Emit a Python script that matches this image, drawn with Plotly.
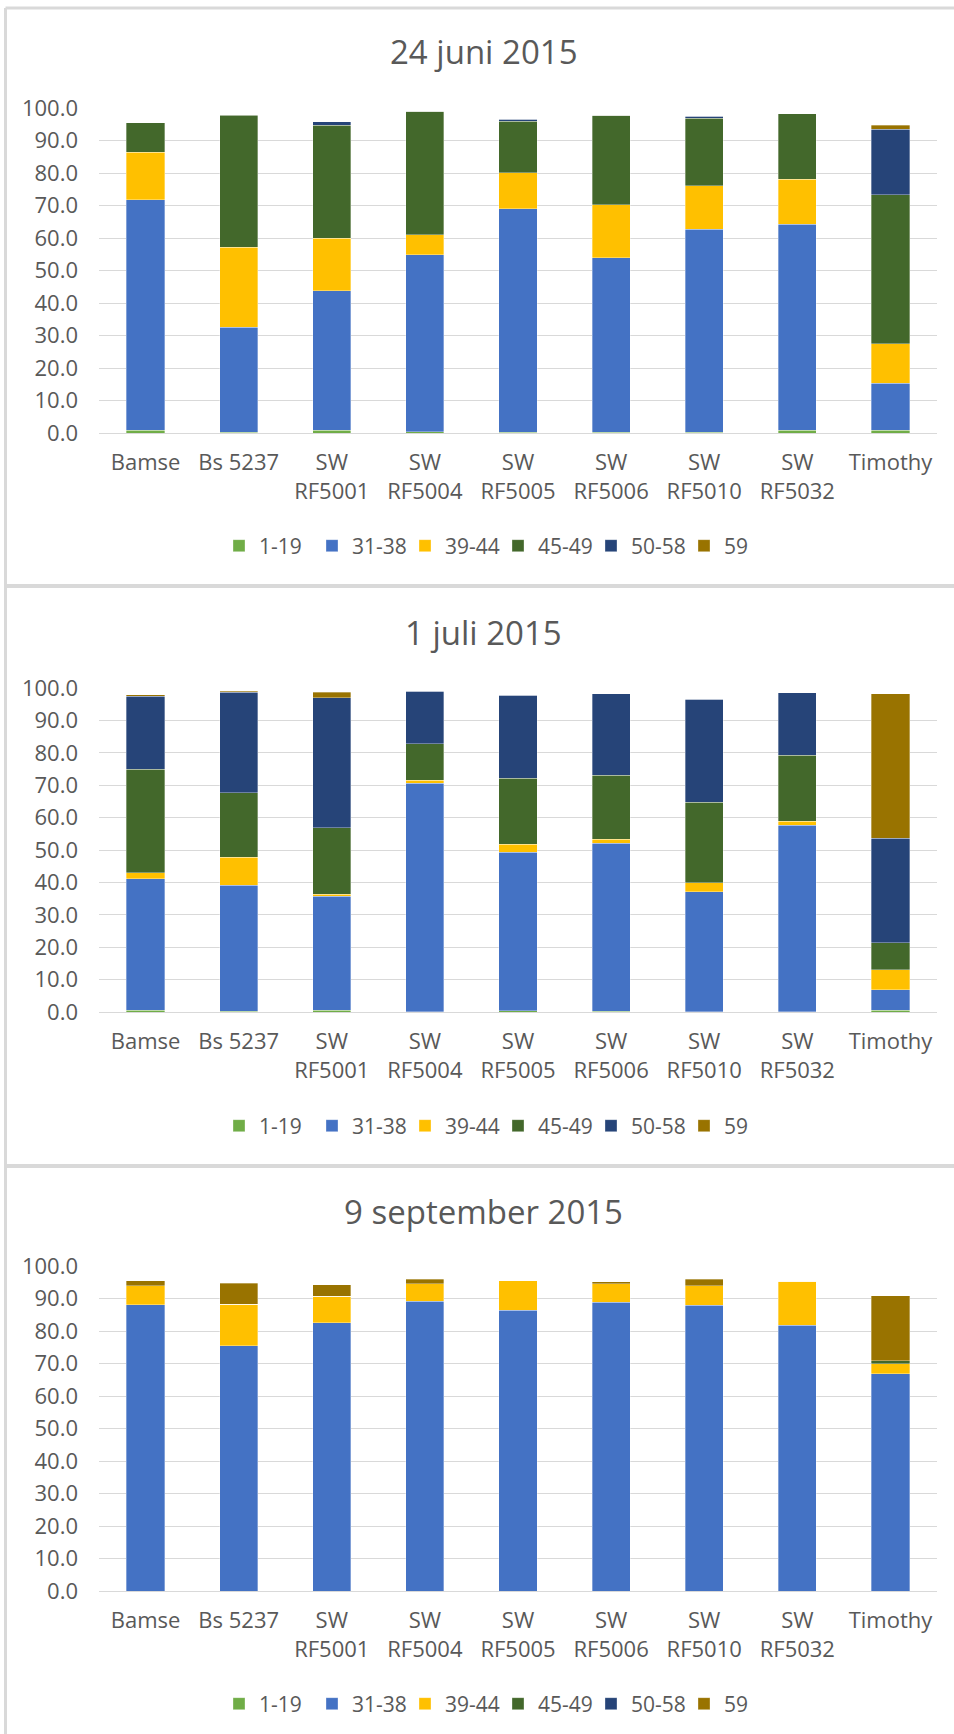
import plotly.graph_objects as go

W, H = 954, 1734

categories = ["Bamse", "Bs 5237", "SW<br>RF5001", "SW<br>RF5004", "SW<br>RF5005",
              "SW<br>RF5006", "SW<br>RF5010", "SW<br>RF5032", "Timothy"]
series_names = ["1-19", "31-38", "39-44", "45-49", "50-58", "59"]
series_colors = ["#70AD47", "#4472C4", "#FFC000", "#43682B", "#264478", "#997300"]
y_ticks = [0, 10, 20, 30, 40, 50, 60, 70, 80, 90, 100]

# 24 juni 2015
jun24_1_19 = [0.8, 0.3, 0.8, 0.4, 0.3, 0.3, 0.3, 0.8, 0.8]
jun24_31_38 = [71.0, 32.3, 42.9, 54.5, 68.7, 53.6, 62.4, 63.5, 14.5]
jun24_39_44 = [14.6, 24.6, 16.2, 6.1, 11.1, 16.3, 13.4, 13.8, 12.2]
jun24_45_49 = [9.0, 40.6, 34.8, 38.0, 15.8, 27.6, 20.8, 20.2, 45.8]
jun24_50_58 = [0.1, 0.1, 1.1, 0.0, 0.7, 0.0, 0.5, 0.0, 20.1]
jun24_59 = [0.0, 0.0, 0.0, 0.0, 0.0, 0.0, 0.0, 0.0, 1.3]

# 1 juli 2015
jul01_1_19 = [0.5, 0.2, 0.5, 0.1, 0.4, 0.3, 0.1, 0.1, 0.6]
jul01_31_38 = [40.6, 38.9, 35.3, 70.5, 48.9, 51.8, 37.0, 57.5, 6.3]
jul01_39_44 = [1.9, 8.7, 0.5, 0.9, 2.5, 1.2, 2.8, 1.3, 6.2]
jul01_45_49 = [31.9, 19.8, 20.5, 11.3, 20.4, 19.7, 24.8, 20.3, 8.3]
jul01_50_58 = [22.6, 31.1, 40.2, 16.2, 25.5, 25.3, 31.9, 19.4, 32.2]
jul01_59 = [0.45, 0.3, 1.7, 0.0, 0.0, 0.0, 0.0, 0.0, 44.7]

# 9 september 2015
sep09_1_19 = [0.0, 0.0, 0.0, 0.0, 0.0, 0.0, 0.0, 0.0, 0.0]
sep09_31_38 = [88.1, 75.5, 82.5, 89.2, 86.4, 88.8, 88.0, 81.7, 66.8]
sep09_39_44 = [5.8, 12.8, 8.2, 5.4, 9.1, 5.8, 5.9, 13.6, 3.1]
sep09_45_49 = [0.0, 0.0, 0.0, 0.0, 0.0, 0.0, 0.0, 0.0, 0.9]
sep09_50_58 = [0.0, 0.0, 0.0, 0.0, 0.0, 0.0, 0.0, 0.0, 0.0]
sep09_59 = [1.6, 6.4, 3.6, 1.3, 0.0, 0.6, 2.0, 0.0, 20.0]

panels = [
    ("24 juni 2015", [jun24_1_19, jun24_31_38, jun24_39_44, jun24_45_49, jun24_50_58, jun24_59]),
    ("1 juli 2015", [jul01_1_19, jul01_31_38, jul01_39_44, jul01_45_49, jul01_50_58, jul01_59]),
    ("9 september 2015", [sep09_1_19, sep09_31_38, sep09_39_44, sep09_45_49, sep09_50_58, sep09_59]),
]

def px_x(x):
    return x / W

def px_y(y):
    return 1 - y / H

FONT = "Open Sans, Liberation Sans, Arial, sans-serif"
TXT = "#595959"
GRID = "#D9D9D9"
TICK_SIZE = 22
LEG_SIZE = 21
TITLE_SIZE = 33

# pixel layout per panel: (plot top, plot bottom, title y, legend y)
panel_px = [(108, 433, 51, 546), (688, 1012, 633, 1126), (1266, 1591, 1211, 1704)]
x_left, x_right = 99, 937

fig = go.Figure()
layout = dict(
    width=W, height=H, autosize=False,
    margin=dict(l=0, r=0, t=0, b=0, pad=0, autoexpand=False),
    paper_bgcolor="white", plot_bgcolor="white",
    barmode="stack", bargap=0.59,
    font=dict(family=FONT, size=TICK_SIZE, color=TXT),
    showlegend=True,
)
annotations = []
shapes = []

for i, (title, data) in enumerate(panels):
    n = "" if i == 0 else str(i + 1)
    xa, ya = "x" + n, "y" + n
    leg = "legend" + n
    top, bot, ty, ly = panel_px[i]
    for name, color, vals in zip(series_names, series_colors, data):
        fig.add_trace(go.Bar(
            x=categories, y=vals, name=name, xaxis=xa, yaxis=ya, legend=leg,
            marker=dict(color=color, line=dict(color="rgba(255,255,255,0.55)", width=0.6)),
        ))
    layout["xaxis" + n] = dict(
        domain=[px_x(x_left), px_x(x_right)], anchor=ya, automargin=False,
        showgrid=False, showline=True, linecolor=GRID, linewidth=1,
        ticks="", ticklabelstandoff=10,
        tickfont=dict(size=TICK_SIZE, color=TXT, family=FONT),
        categoryorder="array", categoryarray=categories, fixedrange=True,
    )
    layout["yaxis" + n] = dict(
        domain=[px_y(bot), px_y(top)], anchor=xa, automargin=False,
        range=[0, 100], tickvals=y_ticks, tickformat=".1f",
        showgrid=True, gridcolor=GRID, gridwidth=1.3, zeroline=False,
        showline=False, ticks="", ticklabelstandoff=20,
        tickfont=dict(size=TICK_SIZE, color=TXT, family=FONT), fixedrange=True,
    )
    layout[leg] = dict(
        orientation="h", x=px_x(219), xanchor="left", y=px_y(ly), yanchor="middle",
        font=dict(size=LEG_SIZE, color=TXT, family=FONT), traceorder="normal",
        itemwidth=30, entrywidth=48, entrywidthmode="pixels",
        bgcolor="rgba(0,0,0,0)", tracegroupgap=0,
    )
    annotations.append(dict(
        text=title, x=px_x(484), y=px_y(ty), xref="paper", yref="paper",
        xanchor="center", yanchor="middle", showarrow=False,
        font=dict(size=TITLE_SIZE, color=TXT, family=FONT),
    ))

# panel borders
border = dict(type="line", xref="paper", yref="paper", line=dict(color=GRID, width=3))
shapes.append({**border, "x0": px_x(5.5), "x1": 1.0, "y0": px_y(8), "y1": px_y(8)})
shapes.append({**border, "x0": px_x(5.5), "x1": px_x(5.5), "y0": px_y(8), "y1": 0})
shapes.append({**border, "x0": px_x(5.5), "x1": 1.0, "y0": px_y(586), "y1": px_y(586), "line": dict(color=GRID, width=4)})
shapes.append({**border, "x0": px_x(5.5), "x1": 1.0, "y0": px_y(1166), "y1": px_y(1166), "line": dict(color=GRID, width=4)})

layout["annotations"] = annotations
layout["shapes"] = shapes
fig.update_layout(**layout)
fig.write_html("out.html", config={"displayModeBar": False},
               post_script="document.body.style.margin='0';")
